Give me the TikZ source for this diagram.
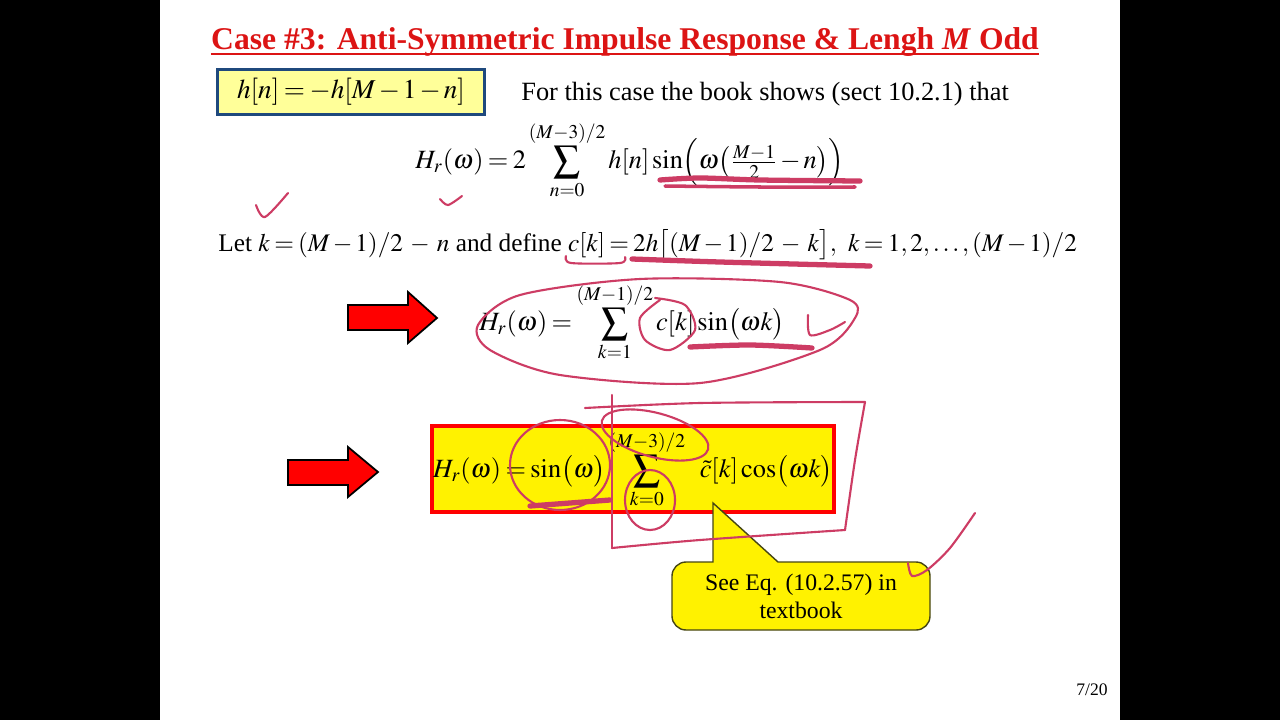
\documentclass[tikz,border=0pt]{standalone}
\usepackage{amsmath}
\usepackage{mathptmx}
\usepackage{fontspec}
\setmainfont{Liberation Serif}
\medmuskip=2mu plus 1mu minus 1mu
\thickmuskip=3mu plus 2mu minus 1mu
\definecolor{titlered}{RGB}{220,20,20}
\definecolor{boxblue}{RGB}{31,73,125}
\definecolor{lightyel}{RGB}{255,255,153}
\definecolor{edgeolive}{RGB}{70,70,20}
\definecolor{inkpink}{RGB}{205,60,100}
\begin{document}
\begin{tikzpicture}[x=0.02cm,y=-0.02cm,
    txt/.style={font=\fontsize{15}{18}\selectfont,inner sep=0pt},
    eq/.style={font=\fontsize{15}{18}\selectfont,inner sep=0pt},
    redarrow/.style={fill=red,draw=black,line width=1pt},
    ink/.style={draw=inkpink,line width=1.2pt,line cap=round,line join=round},
    thickink/.style={ink,line width=3pt}]

    \path[fill=black] (0,0) rectangle (1280,720);
    \path[fill=white] (160,0) rectangle (1120,720);
    \useasboundingbox (0,0) rectangle (1280,720);

    \node[font=\fontsize{18}{22}\selectfont\bfseries,text=titlered,inner sep=0pt] (title) at (625,42)
        {Case \#3: Anti-Symmetric Impulse Response \& Lengh \textit{M} Odd};
    \path[draw=titlered,line width=1.2pt] ([yshift=-2.5pt]title.base west) -- ([yshift=-2.5pt]title.base east);

    \node[eq,font=\fontsize{15.5}{18}\selectfont,draw=boxblue,line width=1.5pt,fill=lightyel,minimum width=5.34cm,minimum height=0.9cm] (symm) at (351,92) {$h[n]=-h[M-1-n]$};
    \node[txt,anchor=west] (book) at (521,94) {For this case the book shows (sect 10.2.1) that};

    \node[eq] (hrone) at (630,160) {$\displaystyle H_r(\omega)=2\sum_{n=0}^{(M-3)/2} h[n]\sin\Bigl(\omega\bigl(\tfrac{M-1}{2}-n\bigr)\Bigr)$};

    \node[txt,font=\fontsize{14.4}{17}\selectfont,anchor=west] (letk) at (218,245) {Let $k=(M-1)/2\;-\;n$ and define $c[k]=2h\bigl[(M-1)/2\;-\;k\bigr],\;\; k=1,2,\ldots,(M-1)/2$};

    \path[redarrow] (348,305) -- (408,305) -- (408,292) -- (437,318) -- (408,343) -- (408,330) -- (348,330) -- cycle;
    \node[eq] (hrtwo) at (632,322) {$\displaystyle H_r(\omega)=\sum_{k=1}^{(M-1)/2} c[k]\sin\bigl(\omega k\bigr)$};

    \path[redarrow] (288,460) -- (348,460) -- (348,447) -- (378,472) -- (348,497) -- (348,485) -- (288,485) -- cycle;
    \node[eq,draw=red,line width=2pt,fill=yellow,minimum width=8.04cm,minimum height=1.72cm] (final) at (633,469)
        {$\displaystyle H_r(\omega)=\sin\bigl(\omega\bigr)\sum_{k=0}^{(M-3)/2}\;\;\,\tilde{c}[k]\cos\bigl(\omega k\bigr)$};

    \path[draw=edgeolive,fill=yellow,line width=0.8pt] (713,562) -- (713,503) -- (778,562)
        [rounded corners=8pt] -- (930,562) -- (930,630) -- (672,630) -- (672,562) [sharp corners] -- cycle;
    \node[font=\fontsize{13.5}{16}\selectfont,align=center,inner sep=0pt] (seeeq) at (801,596) {See Eq. (10.2.57) in\\textbook};

    \node[font=\fontsize{10}{12}\selectfont,inner sep=0pt] (pagenum) at (1092,690) {7/20};

    \path[ink] plot[smooth] coordinates {(256,205) (265,217) (288,193)};
    \path[ink] plot[smooth] coordinates {(440,199) (448,205) (462,196)};
    \path[thickink] plot[smooth] coordinates {(660,180) (700,178) (760,180) (860,181)};
    \path[ink,line width=2pt] plot[smooth] coordinates {(665,186) (760,187) (855,187)};
    \path[ink] plot[smooth] coordinates {(566,256) (571,263) (620,263) (625,257)};
    \path[thickink] plot[smooth] coordinates {(632,259) (720,262) (870,266)};
    \path[ink] plot[smooth cycle] coordinates {(478,325) (520,295) (640,279) (780,282) (850,300) (855,318)
        (820,350) (700,383) (560,375) (490,350)};
    \path[ink] plot[smooth] coordinates {(655,298) (685,305) (695,330) (670,350) (645,340) (640,318) (660,300)};
    \path[thickink] plot[smooth] coordinates {(690,347) (750,345) (812,348)};
    \path[ink] plot[smooth] coordinates {(808,315) (810,335) (830,330) (845,322)};
    \path[ink] (560,465) ellipse[x radius=50,y radius=45];
    \path[thickink] plot[smooth] coordinates {(530,506) (570,503) (610,500)};
    \path[ink,rotate around={-15:(655,435)}] (655,435) ellipse[x radius=55,y radius=22];
    \path[ink] (650,500) ellipse[x radius=25,y radius=30];
    \path[ink] plot[smooth] coordinates {(585,408) (700,403) (865,402)};
    \path[ink] plot[smooth] coordinates {(865,402) (855,460) (845,530)};
    \path[ink] plot[smooth] coordinates {(612,548) (700,540) (845,530)};
    \path[ink] (612,395) -- (612,548);
    \path[ink] plot[smooth] coordinates {(975,513) (950,548) (927,570) (912,576) (908,563)};
\end{tikzpicture}
\end{document}
